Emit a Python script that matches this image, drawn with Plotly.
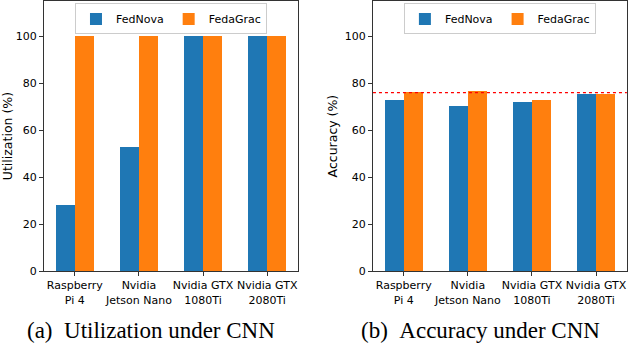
import plotly.graph_objects as go
from plotly.subplots import make_subplots

# Data
devices = ['Raspberry<br>Pi 4', 'Nvidia<br>Jetson Nano', 'Nvidia GTX<br>1080Ti', 'Nvidia GTX<br>2080Ti']
util_fednova = [28, 53, 100, 100]
util_fedagrac = [100, 100, 100, 100]
acc_fednova = [72.8, 70.1, 72.0, 75.2]
acc_fedagrac = [76.4, 76.6, 72.9, 75.5]
acc_reference = 76.0

blue = '#1f77b4'
orange = '#ff7f0e'
pos = list(range(len(devices)))
bar_w = 0.3

fig = make_subplots(rows=1, cols=2)

panels = [(util_fednova, util_fedagrac, 1, 'legend'), (acc_fednova, acc_fedagrac, 2, 'legend2')]
for nova, grac, col, leg in panels:
    fig.add_trace(go.Bar(x=pos, y=nova, name='FedNova', marker=dict(color=blue, line_width=0),
                         width=bar_w, offset=-bar_w, legend=leg), row=1, col=col)
    fig.add_trace(go.Bar(x=pos, y=grac, name='FedaGrac', marker=dict(color=orange, line_width=0),
                         width=bar_w, offset=0, legend=leg), row=1, col=col)

# red dotted reference line on accuracy panel
fig.add_hline(y=acc_reference, line=dict(color='red', width=1.3, dash='dot'), row=1, col=2)

tick_font = dict(family='DejaVu Sans', size=11, color='black')
axis_common = dict(showline=True, linecolor='#333', linewidth=1, mirror=True,
                   ticks='outside', ticklen=4, tickcolor='#333', showgrid=False,
                   zeroline=False, tickfont=tick_font, automargin=False)

fig.update_xaxes(tickvals=pos, ticktext=devices, range=[-0.48, 3.48], tickangle=0, **axis_common)
fig.update_yaxes(range=[0, 115], tickvals=[0, 20, 40, 60, 80, 100], **axis_common)
title_font = dict(family='DejaVu Sans', size=12.5, color='black')
fig.update_layout(
    xaxis=dict(domain=[0.0698, 0.473]),
    xaxis2=dict(domain=[0.592, 0.995]),
    yaxis=dict(domain=[0.221, 0.997], title=dict(text='Utilization (%)', font=title_font, standoff=4)),
    yaxis2=dict(domain=[0.221, 0.997], title=dict(text='Accuracy (%)', font=title_font, standoff=4)),
)

legend_common = dict(orientation='h', xanchor='center', yanchor='top', y=0.99,
                     bgcolor='white', bordercolor='#ccc', borderwidth=1,
                     font=dict(family='DejaVu Sans', size=11, color='black'),
                     itemwidth=30, entrywidth=0)
fig.update_layout(
    legend=dict(x=(0.0698 + 0.473) / 2, **legend_common),
    legend2=dict(x=(0.592 + 0.995) / 2, **legend_common),
)

# subfigure captions
caption_font = dict(family='Liberation Serif', size=23, color='black')
fig.add_annotation(text='(a)&nbsp;&nbsp;Utilization under CNN', x=0.239, y=0.01, xref='paper', yref='paper',
                   xanchor='center', yanchor='bottom', showarrow=False, font=caption_font)
fig.add_annotation(text='(b)&nbsp;&nbsp;Accuracy under CNN', x=0.762, y=0.01, xref='paper', yref='paper',
                   xanchor='center', yanchor='bottom', showarrow=False, font=caption_font)

fig.update_layout(width=630, height=348, margin=dict(l=0, r=0, t=0, b=0),
                  plot_bgcolor='white', paper_bgcolor='white', bargap=0)

fig.write_html('out.html', config={'displayModeBar': False},
               post_script="document.body.style.margin='0';")
